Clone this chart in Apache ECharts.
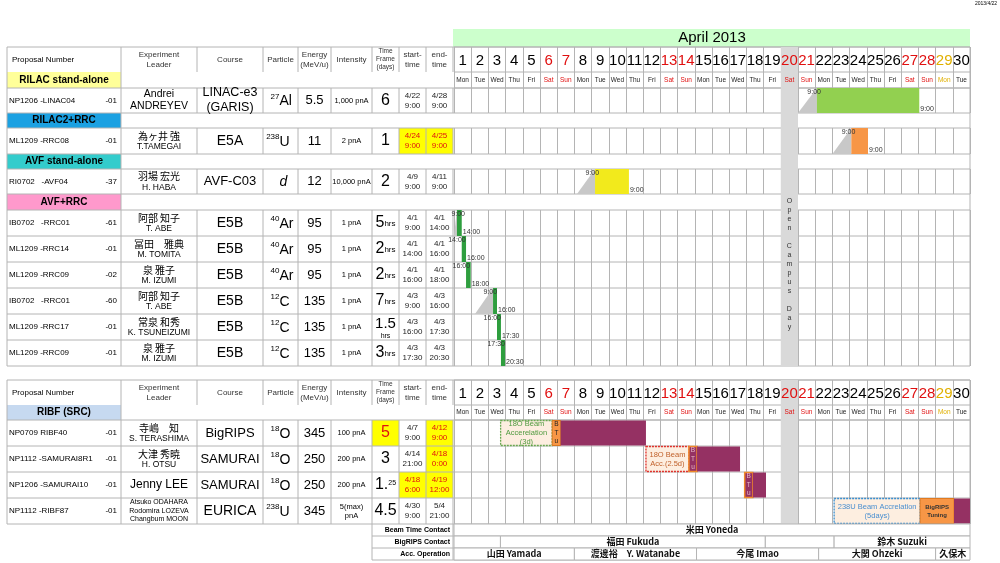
<!DOCTYPE html>
<html><head><meta charset="utf-8">
<script src="https://cdn.jsdelivr.net/npm/echarts@6/dist/echarts.min.js"></script>
<style>html,body{margin:0;background:#fff}#c{width:1000px;height:563px}</style></head>
<body><div id="c"></div>
<script>
// ---------------- DATA ----------------
const monthTitle = 'April 2013';
const printDate = '2013/4/22';
const days = [1,2,3,4,5,6,7,8,9,10,11,12,13,14,15,16,17,18,19,20,21,22,23,24,25,26,27,28,29,30];
const weekdays = ['Mon','Tue','Wed','Thu','Fri','Sat','Sun','Mon','Tue','Wed','Thu','Fri','Sat','Sun','Mon','Tue','Wed','Thu','Fri','Sat','Sun','Mon','Tue','Wed','Thu','Fri','Sat','Sun','Mon','Tue'];
const redDays = [6,7,13,14,20,21,27,28];
const goldDays = [29];
const openDay = 20;
const openText = 'Open Campus Day';
const headers = ['Proposal Number','Experiment\nLeader','Course','Particle','Energy\n(MeV/u)','Intensity','Time\nFrame\n(days)','start-\ntime','end-\ntime'];

const topSections = ['RILAC stand-alone','RILAC2+RRC','AVF stand-alone','AVF+RRC'];
// [key, section, proposal, suffix, leaderJa, leaderEn, course, mass, symbol, energy, intensity, timeFrame, tfUnit, start, end]
const topRows = [
 ['r0',0,'NP1206 -LINAC04','-01','Andrei','ANDREYEV','LINAC-e3\n(GARIS)','27','Al','5.5','1,000 pnA','6','','4/22\n9:00','4/28\n9:00'],
 ['r1',1,'ML1209 -RRC08','-01','為ヶ井 強','T.TAMEGAI','E5A','238','U','11','2 pnA','1','','4/24\n9:00','4/25\n9:00'],
 ['r2',2,'RI0702   -AVF04','-37','羽場 宏光','H. HABA','AVF-C03','','d','12','10,000 pnA','2','','4/9\n9:00','4/11\n9:00'],
 ['r3',3,'IB0702   -RRC01','-61','阿部 知子','T. ABE','E5B','40','Ar','95','1 pnA','5','hrs','4/1\n9:00','4/1\n14:00'],
 ['r4',3,'ML1209 -RRC14','-01','冨田　雅典','M. TOMITA','E5B','40','Ar','95','1 pnA','2','hrs','4/1\n14:00','4/1\n16:00'],
 ['r5',3,'ML1209 -RRC09','-02','泉 雅子','M. IZUMI','E5B','40','Ar','95','1 pnA','2','hrs','4/1\n16:00','4/1\n18:00'],
 ['r6',3,'IB0702   -RRC01','-60','阿部 知子','T. ABE','E5B','12','C','135','1 pnA','7','hrs','4/3\n9:00','4/3\n16:00'],
 ['r7',3,'ML1209 -RRC17','-01','常泉 和秀','K. TSUNEIZUMI','E5B','12','C','135','1 pnA','1.5','hrs','4/3\n16:00','4/3\n17:30'],
 ['r8',3,'ML1209 -RRC09','-01','泉 雅子','M. IZUMI','E5B','12','C','135','1 pnA','3','hrs','4/3\n17:30','4/3\n20:30']
];
const topHighlight = {r1:['start','end']};

const botSection = 'RIBF (SRC)';
const botRows = [
 ['b0',0,'NP0709 RIBF40','-01','寺嶋　知','S. TERASHIMA','BigRIPS','18','O','345','100 pnA','5','','4/7\n9:00','4/12\n9:00'],
 ['b1',0,'NP1112 -SAMURAI8R1','-01','大津 秀暁','H. OTSU','SAMURAI','18','O','250','200 pnA','3','','4/14\n21:00','4/18\n0:00'],
 ['b2',0,'NP1206 -SAMURAI10','-01','','Jenny LEE','SAMURAI','18','O','250','200 pnA','1.','25','4/18\n6:00','4/19\n12:00'],
 ['b3',0,'NP1112 -RIBF87','-01','','Atsuko ODAHARA\nRodomira LOZEVA\nChangbum MOON','EURICA','238','U','345','5(max)\npnA','4.5','','4/30\n9:00','5/4\n21:00']
];
const botHighlight = {b0:['tf','end'], b1:['end'], b2:['start','end']};

// schedule events in day units: [rowKey, kind, start, end, labelA, labelB]
const topEvents = [
 ['r0','ramp',21.0,22.1],['r0','beam',22.1,28.05,'9:00','9:00'],
 ['r1','ramp',23.0,24.1],['r1','beam',24.1,25.07,'9:00','9:00'],
 ['r2','ramp',8.15,9.2],['r2','beam',9.2,11.17,'9:00','9:00'],
 ['r3','ramp',1.0,1.17],['r3','beam',1.17,1.45,'9:00','14:00'],
 ['r4','beam',1.45,1.7,'14:00','16:00'],
 ['r5','beam',1.7,1.97,'16:00','18:00'],
 ['r6','ramp',2.22,3.27],['r6','beam',3.27,3.5,'9:00','16:00'],
 ['r7','beam',3.5,3.73,'16:00','17:30'],
 ['r8','beam',3.73,3.97,'17:30','20:30']
];
const botEvents = [
 ['b0','box',3.71,6.71,'18O Beam\nAccerelation\n(3d)'],['b0','btu',6.71,7.2,'B\nT\nu'],['b0','pbeam',7.2,12.16],
 ['b1','box',12.16,14.66,'18O Beam\nAcc.(2.5d)'],['b1','btuP',14.66,15.13,'B\nT\nu'],['b1','pbeam',15.13,17.63],
 ['b2','btuP',17.9,18.37,'B\nT\nu'],['b2','pbeam',18.37,19.14],
 ['b3','box',23.1,28.1,'238U Beam Accrelation\n(5days)'],['b3','tune',28.1,30.07,'BigRIPS\nTuning'],['b3','pbeam',30.07,31]
];
const contactLabels = ['Beam Time Contact','BigRIPS Contact','Acc. Operation'];
const beamContacts = [['米田 Yoneda',1,31]];
const bigripsContacts = [['',1,3.7],['福田 Fukuda',3.7,19.1],['',19.1,23.1],['鈴木 Suzuki',23.1,31]];
const accContacts = [['山田 Yamada',1,8],['渡邊裕　Y. Watanabe',8,15.1],['今尾 Imao',15.1,22.2],['大関 Ohzeki',22.2,29],['久保木',29,31]];

// ---------------- STYLE / LAYOUT ----------------
const FONT = '"Liberation Sans", Arial, "Noto Sans CJK JP", sans-serif';
const JFONT = '"Noto Sans CJK JP", "Liberation Sans", sans-serif';
const CX0 = 454, CX1 = 970, CW = (CX1-CX0)/30;
const COLS = [7,121,197,263,298,331,372,399,426,453];
const LC = '#b4b4b4';
const secColors = ['#ffff99','#1ba1e2','#33cccc','#ff99cc'];
const botSecColor = '#c6d9f0';
const groupColors = {r0:'#92d050', r1:'#f79646', r2:'#f2ea1c', r3:'#2e9e3e', r4:'#2e9e3e', r5:'#2e9e3e', r6:'#2e9e3e', r7:'#2e9e3e', r8:'#2e9e3e'};
const boxStyles = {b0:['#6aa84f','#4f9a3f'], b1:['#e0302a','#c0602a'], b3:['#3a8fd0','#4a8fd0']};
const PURPLE = '#953163', ORANGE = '#f79646';
const cx = d => CX0 + (d-0.5)*CW;

const G = [];
function rect(x,y,w,h,fill,stroke,z){G.push({type:'rect',shape:{x,y,width:w,height:h},style:{fill:fill||'none',stroke:stroke||null,lineWidth:1},z:z||0,silent:true});}
function line(x1,y1,x2,y2,c){G.push({type:'line',shape:{x1,y1,x2,y2},style:{stroke:c||LC,lineWidth:1},z:1,silent:true});}
function text(x,y,t,o){G.push({type:'text',x,y,style:Object.assign({text:t,fill:'#000',font:'9px '+FONT,align:'center',verticalAlign:'middle',lineHeight:10},o||{}),z:10,silent:true});}

text(986,4,printDate,{font:'5px '+FONT});
rect(453,29,517,18,'#ccffcc');
text((CX0+CX1)/2,38,monthTitle,{font:'15px '+FONT,lineHeight:16});

function colCenters(){const c=[];for(let i=0;i<COLS.length-1;i++)c.push((COLS[i]+COLS[i+1])/2);return c;}
const CC = colCenters();

function drawHeader(y0,y1){
  line(COLS[0],y0,CX1,y0);
  COLS.forEach(x=>line(x,y0,x,y1));
  const ym=(y0+y1)/2;
  headers.forEach((h,i)=>{
    if(i===0) text(COLS[0]+5,ym,h,{align:'left',font:'8px '+FONT});
    else if(i===6) text(CC[i],ym,h,{font:'6.5px '+FONT,lineHeight:8,fill:'#333'});
    else text(CC[i],ym,h,{font:'8px '+FONT,fill:'#333'});
  });
}
function drawDays(yNum,yDay,yEnd){
  days.forEach((d,i)=>{
    const col = redDays.includes(d)?'#e01010':(goldDays.includes(d)?'#e0b000':'#000');
    text(cx(d),(yNum+yDay)/2+1,String(d),{font:'15px '+FONT,fill:col,lineHeight:16});
    text(cx(d),(yDay+yEnd)/2,weekdays[i],{font:'6.5px '+FONT,fill:col==='#000'?'#222':col});
  });
  line(CX0,yNum,CX1,yNum); line(CX0,yDay,CX1,yDay); line(CX0,yEnd,CX1,yEnd);
}
function drawRow(r,y0,y1,hl){
  const ym=(y0+y1)/2;
  COLS.forEach(x=>line(x,y0,x,y1));
  line(COLS[0],y1,CX1,y1);
  const h=hl||[];
  if(h.includes('tf')) rect(COLS[6],y0,COLS[7]-COLS[6],y1-y0,'#ffff00');
  if(h.includes('start')) rect(COLS[7],y0,COLS[8]-COLS[7],y1-y0,'#ffff00');
  if(h.includes('end')) rect(COLS[8],y0,COLS[9]-COLS[8],y1-y0,'#ffff00');
  text(COLS[0]+2,ym,r[2],{align:'left',font:'8px '+FONT});
  text(COLS[1]-4,ym,r[3],{align:'right',font:'8px '+FONT});
  if(r[4]){
    const latin=/[a-z]/.test(r[4]);
    text(CC[1],ym-(latin?6:5),r[4],{font:(latin?'10.5px ':'10px ')+(latin?FONT:JFONT),lineHeight:11});
    text(CC[1],ym+(latin?6:6),r[5],{font:(latin?'10.5px ':'8.5px ')+FONT,lineHeight:11}); }
  else if(r[5].includes('\n')) text(CC[1],ym,r[5],{font:'7px '+FONT,lineHeight:8.5});
  else text(CC[1],ym,r[5],{font:'12px '+FONT});
  const cf = r[6].includes('\n')?'12.5px ':(r[6].length>6?'13px ':'14px ');
  text(CC[2],ym,r[6],{font:cf+FONT,lineHeight:15});
  if(r[7]) text(CC[3]-1,ym-4,r[7],{align:'right',font:'8px '+FONT});
  text(CC[3]-1,ym+1,r[8],{align:'left',font:(r[8]==='d'?'italic ':'')+'14px '+FONT});
  text(CC[4],ym,r[9],{font:'13px '+FONT});
  text(CC[5],ym,r[10],{font:'7.5px '+FONT,lineHeight:9});
  const tfCol = h.includes('tf')?'#e01010':'#000';
  if(r[12]==='hrs' && r[11].includes('.')){ text(CC[6],ym-3,r[11],{font:'15px '+FONT,lineHeight:15}); text(CC[6],ym+9,'hrs',{font:'7px '+FONT}); }
  else if(r[12]==='hrs') text(CC[6],ym,'{a|'+r[11]+'}{b|hrs}',{rich:{a:{font:'16px '+FONT},b:{font:'8px '+FONT,verticalAlign:'bottom'}}});
  else if(r[12]) text(CC[6],ym,'{a|'+r[11]+'}{b|'+r[12]+'}',{rich:{a:{font:'16px '+FONT},b:{font:'7px '+FONT,verticalAlign:'top'}}});
  else text(CC[6],ym,r[11],{font:'16px '+FONT,fill:tfCol,lineHeight:16});
  text(CC[7],ym,r[13],{font:'8px '+FONT,fill:h.includes('start')?'#e01010':'#222'});
  text(CC[8],ym,r[14],{font:'8px '+FONT,fill:h.includes('end')?'#e01010':'#222'});
}
function drawSection(label,color,y0,y1){
  rect(COLS[0],y0,COLS[1]-COLS[0],y1-y0,color);
  line(COLS[0],y0,COLS[0],y1); line(COLS[1],y0,COLS[1],y1);
  line(COLS[0],y1,CX1,y1);
  text(CC[0],(y0+y1)/2,label,{font:'bold 10px '+FONT});
}

const topSecY = [[72,88],[113,128],[154,169],[194,210]];
const topRowY = [[88,113],[128,154],[169,194],[210,236],[236,262],[262,288],[288,314],[314,340],[340,366]];
drawHeader(47,72);
drawDays(47,72,88);
topSections.forEach((s,i)=>drawSection(s,secColors[i],topSecY[i][0],topSecY[i][1]));
topRows.forEach((r,i)=>drawRow(r,topRowY[i][0],topRowY[i][1],topHighlight[r[0]]));
line(CX1,47,CX1,366);
drawHeader(380,405);
drawDays(380,405,420);
drawSection(botSection,botSecColor,405,420);
const botRowY=[[420,446],[446,472],[472,498],[498,524]];
botRows.forEach((r,i)=>drawRow(r,botRowY[i][0],botRowY[i][1],botHighlight[r[0]]));
line(CX1,380,CX1,524);
contactLabels.forEach((c,i)=>{const y0=524+i*12; line(372,y0+12,CX1,y0+12); line(372,y0,372,y0+12); line(453,y0,453,y0+12); text(450,y0+6,c,{align:'right',font:'bold 7px '+FONT});});
text(cx(openDay),264,openText.split('').join('\n'),{font:'7px '+FONT,lineHeight:9,fill:'#333'});

// ---------------- CHART ----------------
const grids=[], xAxes=[], yAxes=[], series=[];
function addGrid(top,height,cats,split){
  const gi=grids.length;
  grids.push({left:CX0,top,width:CX1-CX0,height,containLabel:false});
  xAxes.push({type:'value',gridIndex:gi,min:1,max:31,interval:1,axisLine:{show:false},axisTick:{show:false},axisLabel:{show:false},splitLine:{show:split,lineStyle:{color:LC,width:1}}});
  if(cats) yAxes.push({type:'category',gridIndex:gi,data:cats,inverse:true,axisLine:{show:false},axisTick:{show:false},axisLabel:{show:false},splitLine:{show:false}});
  else yAxes.push({type:'value',gridIndex:gi,min:0,max:1,show:false,splitLine:{show:false}});
  return gi;
}
function grayCol(gi){
  series.push({type:'custom',xAxisIndex:gi,yAxisIndex:gi,z:1,silent:true,data:[[openDay,openDay+1]],encode:{x:[0,1]},
    renderItem:(p,api)=>{const a=api.coord([api.value(0),1]),b=api.coord([api.value(1),0]);
      return {type:'rect',shape:{x:a[0],y:a[1],width:b[0]-a[0],height:b[1]-a[1]},style:{fill:'#d9d9d9'}};}});
}
function ganttSeries(gi,keys,events){
  const ev = events.filter(e=>keys.includes(e[0]));
  series.push({type:'custom',xAxisIndex:gi,yAxisIndex:gi,z:3,silent:true,
    data:ev.map(e=>[e[2],e[3],keys.indexOf(e[0])]),encode:{x:[0,1],y:2},
    renderItem:(p,api)=>{
      const e=ev[p.dataIndex]; const r=api.value(2);
      const a=api.coord([api.value(0),r]), b=api.coord([api.value(1),r]);
      const h=api.size([0,1])[1]; const top=a[1]-h/2, bot=a[1]+h/2, w=b[0]-a[0];
      const ch=[];
      const tx=(t,x,y,o)=>ch.push({type:'text',x,y,style:Object.assign({text:t,fill:'#333',font:'7px '+FONT,align:'center',verticalAlign:'middle',lineHeight:8.5},o)});
      if(e[1]==='ramp') ch.push({type:'polygon',shape:{points:[[a[0],bot],[b[0],top],[b[0],bot]]},style:{fill:'#c8c8c8'}});
      else if(e[1]==='beam'){
        ch.push({type:'rect',shape:{x:a[0],y:top,width:w,height:h},style:{fill:groupColors[e[0]]}});
        tx(e[4],Math.max(a[0]+4,CX0+11),top+4,{align:'right'});
        tx(e[5],b[0]+1,bot-4,{align:'left'});
      } else if(e[1]==='box'){
        const s=boxStyles[e[0]];
        ch.push({type:'rect',shape:{x:a[0],y:top+0.5,width:w,height:h-1},style:{fill:'#fdeee0',stroke:s[0],lineWidth:1.3,lineDash:[2,1]}});
        tx(e[4],(a[0]+b[0])/2,a[1],{fill:s[1],font:'7.5px '+FONT,lineHeight:9});
      } else if(e[1]==='btu'){
        ch.push({type:'rect',shape:{x:a[0],y:top+0.5,width:w,height:h-1},style:{fill:ORANGE,stroke:'#d9771f',lineWidth:1}});
        tx(e[4],(a[0]+b[0])/2,a[1],{fill:'#222',font:'6.5px '+FONT});
      } else if(e[1]==='btuP'){
        ch.push({type:'rect',shape:{x:a[0],y:top+0.5,width:w,height:h-1},style:{fill:PURPLE,stroke:'#f08a2a',lineWidth:1.5}});
        tx(e[4],(a[0]+b[0])/2,a[1],{fill:'#e8b8c8',font:'6.5px '+FONT});
      } else if(e[1]==='tune'){
        ch.push({type:'rect',shape:{x:a[0],y:top+0.5,width:w,height:h-1},style:{fill:ORANGE,stroke:'#e07a20',lineWidth:1}});
        tx(e[4],(a[0]+b[0])/2,a[1],{fill:'#333',font:'bold 6px '+FONT,lineHeight:8});
      } else if(e[1]==='pbeam'){
        ch.push({type:'rect',shape:{x:a[0],y:top+0.5,width:w,height:h-1},style:{fill:PURPLE}});
      }
      return {type:'group',children:ch};
    }});
}

let gi;
gi=addGrid(47,319,null,false); grayCol(gi);
gi=addGrid(380,144,null,false); grayCol(gi);
addGrid(47,41,null,true);
addGrid(380,40,null,true);
gi=addGrid(88,25,['r0'],true); ganttSeries(gi,['r0'],topEvents);
gi=addGrid(128,26,['r1'],true); ganttSeries(gi,['r1'],topEvents);
gi=addGrid(169,25,['r2'],true); ganttSeries(gi,['r2'],topEvents);
gi=addGrid(210,156,['r3','r4','r5','r6','r7','r8'],true); ganttSeries(gi,['r3','r4','r5','r6','r7','r8'],topEvents);
gi=addGrid(420,104,['b0','b1','b2','b3'],true); ganttSeries(gi,['b0','b1','b2','b3'],botEvents);
gi=addGrid(524,36,['c0','c1','c2'],false);
const contactCells=[];
[beamContacts,bigripsContacts,accContacts].forEach((arr,ri)=>arr.forEach(c=>contactCells.push([c[1],c[2],ri,c[0]])));
series.push({type:'custom',xAxisIndex:gi,yAxisIndex:gi,z:3,silent:true,
  data:contactCells.map(c=>[c[0],c[1],c[2]]),encode:{x:[0,1],y:2},
  renderItem:(p,api)=>{const c=contactCells[p.dataIndex];const a=api.coord([api.value(0),c[2]]),b=api.coord([api.value(1),c[2]]);const h=api.size([0,1])[1];
    return {type:'group',children:[
      {type:'rect',shape:{x:a[0],y:a[1]-h/2,width:b[0]-a[0],height:h},style:{fill:'#fff',stroke:LC,lineWidth:1}},
      {type:'text',x:(a[0]+b[0])/2,y:a[1],style:{text:c[3],font:'bold 9px '+JFONT,fill:'#111',align:'center',verticalAlign:'middle'}}]};}});

const chart=echarts.init(document.getElementById('c'),null,{renderer:'canvas'});
chart.setOption({animation:false,backgroundColor:'#fff',grid:grids,xAxis:xAxes,yAxis:yAxes,series,graphic:{elements:G}});
</script></body></html>
